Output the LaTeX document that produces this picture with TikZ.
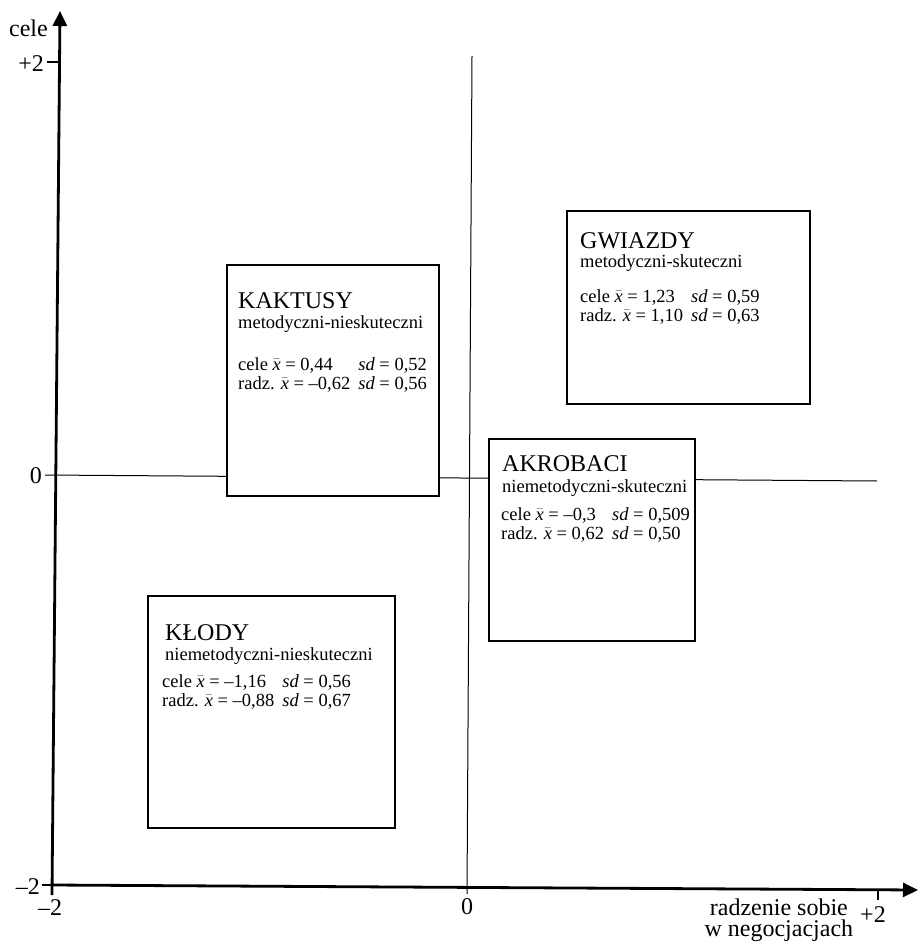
\documentclass[tikz,border=0pt]{standalone}
\usepackage{fontspec}
\setmainfont{Liberation Serif}
\usetikzlibrary{arrows.meta}
\newcommand\xb{\ensuremath{\bar{\mbox{\textit{x}}}}}
\newcommand\sdx{\textit{sd}}
\begin{document}
\begin{tikzpicture}[x=1pt,y=-1pt,
  axis/.style={line width=2.8pt,-{Triangle[length=15pt,width=14pt]}},
  thinline/.style={line width=1pt},
  tick/.style={line width=1.2pt},
  box/.style={draw,line width=2pt,fill=white,inner sep=0pt},
  ttl/.style={anchor=base west,inner sep=0pt,font=\fontsize{24}{28}\selectfont},
  sub/.style={anchor=base west,inner sep=0pt,font=\fontsize{18.5}{22}\selectfont},
  stats/.style={anchor=base west,inner sep=0pt,font=\fontsize{18.5}{19}\selectfont},
  lbl/.style={inner sep=0pt,font=\fontsize{24}{28}\selectfont}]
\useasboundingbox (0,0) rectangle (920,944);
% coordinates
\coordinate (ybot) at (52,895);
\coordinate (ytop) at (60,11);
\coordinate (xleft) at (52,885);
\coordinate (xright) at (918,890);
\coordinate (h0l) at (45,475);
\coordinate (h0r) at (877,481);
\coordinate (v0t) at (472,56);
\coordinate (v0b) at (467,894);
\coordinate (ty2a) at (47,62);
\coordinate (ty2b) at (58,62);
\coordinate (tym2a) at (42,885);
\coordinate (tym2b) at (52,885);
\coordinate (tx2a) at (878,890);
\coordinate (tx2b) at (878,900);
% thin quadrant lines
\draw[thinline] (h0l) -- (h0r);
\draw[thinline] (v0t) -- (v0b);
% axes
\draw[axis] (ybot) -- (ytop);
\draw[axis] (xleft) -- (xright);
\draw[tick] (ty2a) -- (ty2b);
\draw[tick] (tym2a) -- (tym2b);
\draw[tick] (tx2a) -- (tx2b);
% axis labels
\node[lbl,anchor=base east] (lcele) at (48,37) {cele};
\node[lbl,anchor=base east] (lp2) at (44,72) {+2};
\node[lbl,anchor=base east] (l0) at (42,483) {0};
\node[lbl,anchor=base east] (lm2) at (40,894) {–2};
\node[lbl,anchor=base] (lm2x) at (50,915) {–2};
\node[lbl,anchor=base] (l0x) at (467,914) {0};
\node[lbl,anchor=base] (lp2x) at (873,922) {+2};
\node[lbl,anchor=base east] (rad1) at (848,915) {radzenie sobie};
\node[lbl,anchor=base] (rad2) at (rad1.base |- 0,936) {w negocjacjach};
% boxes
\node[box,minimum width=212pt,minimum height=231pt] (kaktusy) at (333,380.5) {};
\node[box,minimum width=243pt,minimum height=193pt] (gwiazdy) at (688.5,307.5) {};
\node[box,minimum width=206pt,minimum height=202pt] (akrobaci) at (592,540) {};
\node[box,minimum width=247pt,minimum height=232pt] (klody) at (271.5,712) {};
% KAKTUSY
\node[ttl] (kt) at (238,308) {KAKTUSY};
\node[sub] (ks) at (238,328) {metodyczni-nieskuteczni};
\node[stats] (kd) at (238,370) {\begin{tabular}[t]{@{}l@{\hspace{8pt}}l@{}}cele \xb{} = 0,44 & \sdx{} = 0,52\\ radz. \xb{} = –0,62 & \sdx{} = 0,56\end{tabular}};
% GWIAZDY
\node[ttl] (gt) at (580,248) {GWIAZDY};
\node[sub] (gs) at (580,267) {metodyczni-skuteczni};
\node[stats] (gd) at (580,302) {\begin{tabular}[t]{@{}l@{\hspace{8pt}}l@{}}cele \xb{} = 1,23 & \sdx{} = 0,59\\ radz. \xb{} = 1,10 & \sdx{} = 0,63\end{tabular}};
% AKROBACI
\node[ttl] (at) at (502,471) {AKROBACI};
\node[sub] (as) at (502,492) {niemetodyczni-skuteczni};
\node[stats] (ad) at (501,520) {\begin{tabular}[t]{@{}l@{\hspace{8pt}}l@{}}cele \xb{} = –0,3 & \sdx{} = 0,509\\ radz. \xb{} = 0,62 & \sdx{} = 0,50\end{tabular}};
% KLODY
\node[ttl] (lt) at (165,640) {KŁODY};
\node[sub] (ls) at (165,660) {niemetodyczni-nieskuteczni};
\node[stats] (ld) at (162,687) {\begin{tabular}[t]{@{}l@{\hspace{8pt}}l@{}}cele \xb{} = –1,16 & \sdx{} = 0,56\\ radz. \xb{} = –0,88 & \sdx{} = 0,67\end{tabular}};
\end{tikzpicture}
\end{document}
